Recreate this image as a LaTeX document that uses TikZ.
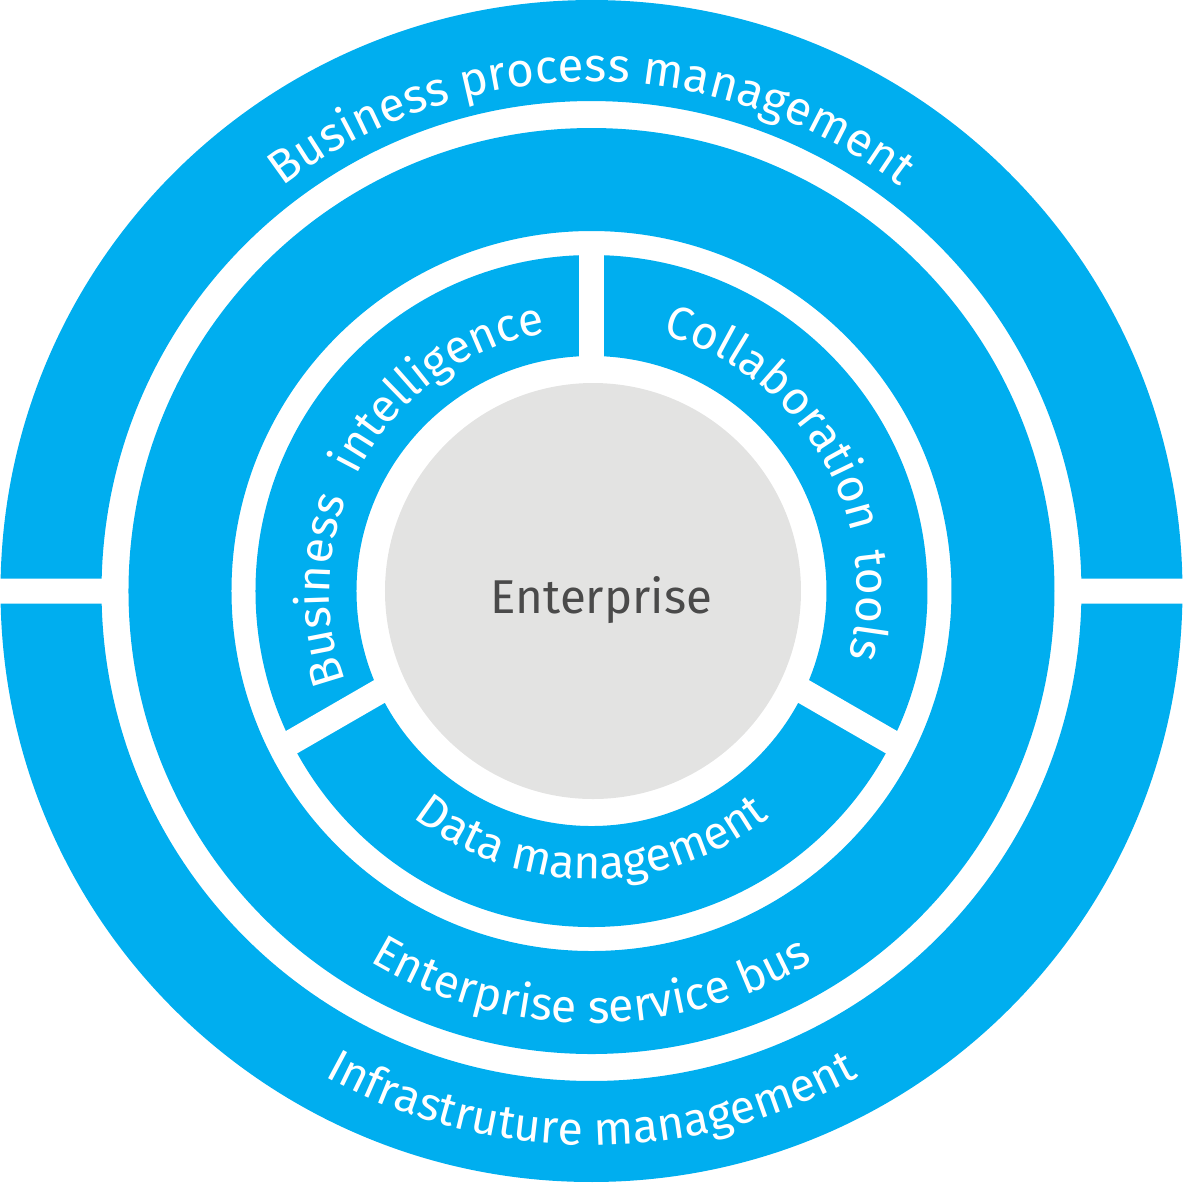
\documentclass[tikz,border=0pt]{standalone}
\usepackage{fontspec}
\setmainfont{Fira Sans}
\usetikzlibrary{decorations.text}
\definecolor{cBlue}{HTML}{00AEEF}
\definecolor{cGray}{HTML}{E3E3E2}
\definecolor{cText}{HTML}{4A4A4A}
\newcommand{\ringfont}{\fontsize{13.2pt}{16pt}\selectfont}
\newcommand{\topfont}{\fontsize{13.5pt}{16pt}\selectfont}
\tikzset{
  band/.style={fill=cBlue, draw=none},
  gap/.style={draw=white, line width=0.25cm},
  hub/.style={circle, fill=cGray, minimum size=4.16cm, inner sep=0pt},
  hubtext/.style={font=\fontsize{13.5pt}{16pt}\selectfont, text=cText, anchor=base},
  arclabel/.style={decorate,
    decoration={text along path, text align=center, text color=white, text={#1}}},
}

\begin{document}
\begin{tikzpicture}
  \useasboundingbox (-5.915,-5.91) rectangle (5.915,5.91);

  % Outer ring, in two halves
  \foreach \a/\b in {0/180, 180/360} {
    \pgfmathsetmacro{\dO}{asin(0.125/5.91)}
    \pgfmathsetmacro{\dI}{asin(0.125/4.90)}
    \fill[band] ({\a+\dO}:5.91) arc[start angle=\a+\dO, end angle=\b-\dO, radius=5.91]
      -- ({\b-\dI}:4.90) arc[start angle=\b-\dI, end angle=\a+\dI, radius=4.90] -- cycle;
  }

  % Service bus ring
  \fill[band, even odd rule] (0,0) circle[radius=4.63] (0,0) circle[radius=3.60];

  % Inner ring, cut in three by white gaps
  \fill[band, even odd rule] (0,0) circle[radius=3.36] (0,0) circle[radius=2.35];
  \coordinate (split) at (0,0.22);
  \begin{scope}
    \clip (0,0) circle[radius=3.48];
    \foreach \ang in {90, 210, 330}
      \draw[gap] (split) -- ++(\ang:4);
  \end{scope}

  % Center
  \node[hub] (hub) at (0.015,0) {};
  \node[hubtext] (hublabel) at (0.10,-0.22) {Enterprise};

  % Curved labels
  \path[arclabel={|\topfont|Business process management}]
    (160:5.09) arc[start angle=160, end angle=20, radius=5.09];
  \path[arclabel={|\ringfont|Infrastruture management}]
    (200:5.54) arc[start angle=200, end angle=340, radius=5.54];
  \path[arclabel={|\ringfont|Enterprise service bus}]
    (200:4.32) arc[start angle=200, end angle=340, radius=4.32];
  \path[arclabel={|\ringfont|Data management}]
    (200:2.88) arc[start angle=200, end angle=340, radius=2.88];
  \path[arclabel={|\ringfont|Business {\kern0.3em}intelligence}]
    (240:2.62) arc[start angle=240, end angle=60, radius=2.62];
  \path[arclabel={|\ringfont|Collaboration {\kern0.15em}tools}]
    (120:2.66) arc[start angle=120, end angle=-60, radius=2.66];
\end{tikzpicture}
\end{document}
